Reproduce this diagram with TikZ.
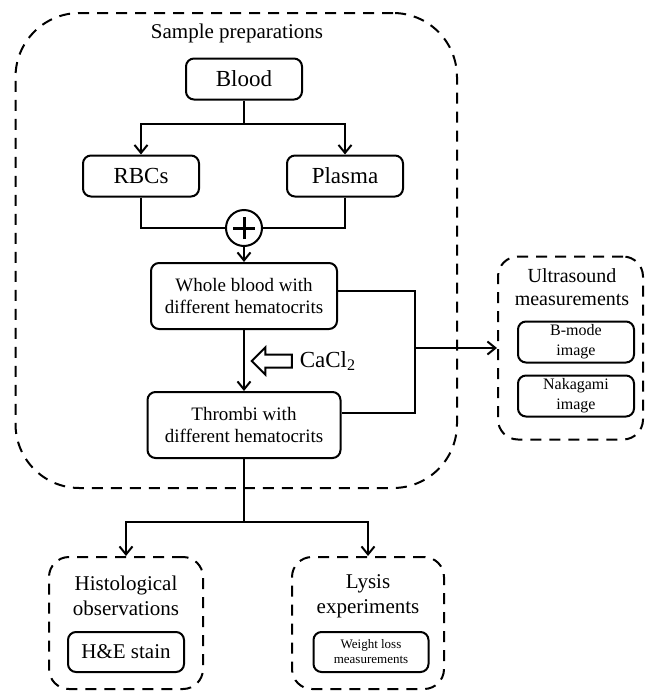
\documentclass[tikz,border=0pt]{standalone}
\usepackage{fontspec}
\setmainfont{Liberation Serif}
\usetikzlibrary{arrows.meta,positioning,shapes.arrows}

\begin{document}
\begin{tikzpicture}[x=0.5pt,y=-0.5pt,
  box/.style={draw,line width=1pt,rounded corners=4pt,inner sep=0pt,align=center},
  group/.style={draw,line width=1pt,dash pattern=on 5.5pt off 4pt,inner sep=0pt,rounded corners=10pt},
  link/.style={line width=1pt,-{Straight Barb[length=4pt,width=6.5pt]}},
  wire/.style={line width=1pt},
  big/.style={font=\fontsize{11.5}{13}\selectfont},
  mid/.style={font=\fontsize{9.5}{11}\selectfont,align=center},
  head/.style={font=\fontsize{10.5}{12.5}\selectfont,align=center}]
\useasboundingbox (0,0) rectangle (645,691);
% sample preparations
\node[group,minimum width=220.75pt,minimum height=237.5pt,rounded corners=32pt] (prep) at (236.25,250.5) {};
\node[head] (preptitle) at (237,33) {Sample preparations};
\node[box,big,minimum width=58pt,minimum height=20.5pt] (blood) at (244,79) {Blood};
\node[box,big,minimum width=58pt,minimum height=20.5pt] (rbc) at (141,176) {RBCs};
\node[box,big,minimum width=58pt,minimum height=20.5pt] (plasma) at (345,176) {Plasma};
\node[circle,draw,line width=1pt,minimum size=18pt,inner sep=0pt] (mix) at (244,228) {};
\draw[line width=1.5pt] ([xshift=-5.5pt]mix.center) -- ([xshift=5.5pt]mix.center)
  ([yshift=-5.5pt]mix.center) -- ([yshift=5.5pt]mix.center);
\node[box,mid,minimum width=93pt,minimum height=33pt] (whole) at (244,296) {Whole blood with\\different hematocrits};
\node[box,mid,minimum width=96.5pt,minimum height=33pt] (thrombi) at (244,425) {Thrombi with\\different hematocrits};
\node[single arrow,draw,line width=1pt,shape border rotate=180,minimum height=20pt,
  single arrow head extend=3.5pt,inner sep=2.75pt] (ca) at (275,361) {};
\node[big,right=0pt of ca] (cacl) {CaCl\textsubscript{2}};
\coordinate (split) at (244,124);
\draw[wire] (blood) -- (split);
\draw[link] (split) -| (rbc.north);
\draw[link] (split) -| (plasma.north);
\draw[wire] (rbc.south) |- (mix.west);
\draw[wire] (plasma.south) |- (mix.east);
\draw[link] (mix) -- (whole);
\draw[link] (whole) -- (thrombi);
% ultrasound
\node[group,minimum width=72.5pt,minimum height=91.5pt] (ultra) at (570.5,348) {};
\node[head,font=\fontsize{10}{11.8}\selectfont] (ultratitle) at (572,287) {Ultrasound\\measurements};
\node[box,font=\fontsize{8}{10}\selectfont,minimum width=58pt,minimum height=20.5pt] (bmode) at (576,342) {B-mode\\image};
\node[box,font=\fontsize{8}{10}\selectfont,minimum width=58pt,minimum height=20.5pt] (naka) at (576,396) {Nakagami\\image};
\coordinate (bus) at (415,348);
\draw[wire] ([yshift=2.5pt]whole.east) -| (bus) |- ([yshift=6pt]thrombi.east);
\draw[link] (bus) -- (ultra);
% histology and lysis
\node[group,minimum width=77pt,minimum height=66pt] (histo) at (126,623) {};
\node[head] (histotitle) at (126,596) {Histological\\observations};
\node[box,font=\fontsize{10.5}{12}\selectfont,minimum width=58pt,minimum height=20pt] (he) at (126,652) {H\&E stain};
\node[group,minimum width=76pt,minimum height=66pt] (lysis) at (368,623) {};
\node[head] (lysistitle) at (368,596) {Lysis\\experiments};
\node[box,font=\fontsize{6.5}{7.5}\selectfont,minimum width=57.5pt,minimum height=20pt] (weight) at (371,652) {Weight loss\\measurements};
\coordinate (fork) at (244,522);
\draw[wire] (thrombi) -- (fork);
\draw[link] (fork) -| (histo.north);
\draw[link] (fork) -| (lysis.north);
\end{tikzpicture}
\end{document}
